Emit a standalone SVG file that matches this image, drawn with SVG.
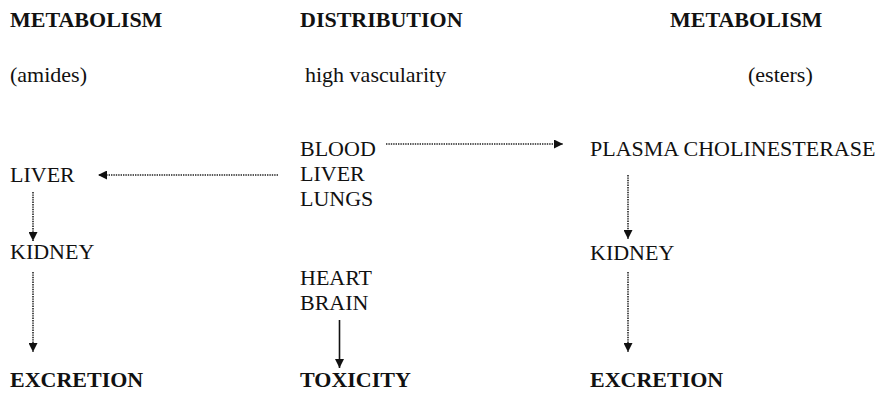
<svg xmlns="http://www.w3.org/2000/svg" width="880" height="394" viewBox="0 0 880 394">
<defs>
<style>
text{font-size:22px;fill:#111}
.b{font-weight:bold}
.dot{stroke:#222;stroke-width:1.6;stroke-dasharray:1.4 1;fill:none}
.solid{stroke:#111;stroke-width:1.6;fill:none}
</style>
<marker id="ah" viewBox="0 0 10 10" refX="10" refY="5" markerWidth="9" markerHeight="9" markerUnits="userSpaceOnUse" orient="auto">
<path d="M0,0 L10,5 L0,10 z" fill="#111"/>
</marker>
</defs>
<rect width="880" height="394" fill="#fff"/>
<g font-family="'Liberation Serif', 'DejaVu Serif', serif">
<g id="hdr-met-left"><text class="b" x="10" y="27">METABOLISM</text><text x="10" y="82">(amides)</text></g>
<g id="hdr-dist"><text class="b" x="300" y="27">DISTRIBUTION</text><text x="305" y="82">high vascularity</text></g>
<g id="hdr-met-right"><text class="b" x="670" y="27">METABOLISM</text><text x="748" y="82">(esters)</text></g>
<g id="blood-liver-lungs"><text x="300" y="156">BLOOD</text><text x="300" y="181">LIVER</text><text x="300" y="206">LUNGS</text></g>
<g id="heart-brain"><text x="300" y="285">HEART</text><text x="300" y="310">BRAIN</text></g>
<g id="toxicity"><text class="b" x="300" y="387">TOXICITY</text></g>
<g id="liver"><text x="10" y="182">LIVER</text></g>
<g id="kidney-left"><text x="10" y="259">KIDNEY</text></g>
<g id="excretion-left"><text class="b" x="10" y="387">EXCRETION</text></g>
<g id="plasma"><text x="590" y="156">PLASMA CHOLINESTERASE</text></g>
<g id="kidney-right"><text x="590" y="260">KIDNEY</text></g>
<g id="excretion-right"><text class="b" x="590" y="387">EXCRETION</text></g>
</g>
<g id="connectors">
<line class="dot" x1="386" y1="144" x2="563" y2="144" marker-end="url(#ah)"/>
<line class="dot" x1="278" y1="175" x2="98" y2="175" marker-end="url(#ah)"/>
<line class="dot" x1="33" y1="192" x2="33" y2="241" marker-end="url(#ah)"/>
<line class="dot" x1="33" y1="272" x2="33" y2="352" marker-end="url(#ah)"/>
<line class="dot" x1="628" y1="175" x2="628" y2="239" marker-end="url(#ah)"/>
<line class="dot" x1="628" y1="272" x2="628" y2="352" marker-end="url(#ah)"/>
<line class="solid" x1="339.5" y1="320" x2="339.5" y2="368" marker-end="url(#ah)"/>
</g>
</svg>
